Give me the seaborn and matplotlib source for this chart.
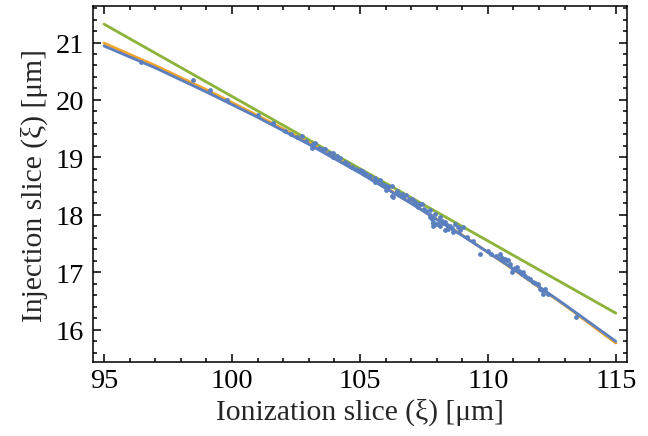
import matplotlib
matplotlib.use("Agg")
import matplotlib.pyplot as plt
import seaborn as sns
import pandas as pd
from matplotlib.ticker import MultipleLocator

# ---- data ----
line_x = [95, 97, 99, 101, 103, 105, 107, 109, 111, 113, 115]
blue_line_y = [20.94, 20.56, 20.14, 19.70, 19.23, 18.73, 18.20, 17.64, 17.06, 16.44, 15.80]
orange_line_y = [20.99, 20.60, 20.18, 19.73, 19.26, 18.75, 18.21, 17.65, 17.05, 16.43, 15.77]
green_x = [95, 115]
green_y = [21.32, 16.29]

pts_x = [96.45, 98.49, 99.14, 99.79, 101.03, 101.6, 102.07, 102.3, 102.55, 102.72,
         102.9, 103.11, 103.18, 103.24, 103.4, 103.57, 103.63, 103.8, 103.96, 103.96,
         104.1, 104.22, 104.4, 104.55, 104.7, 104.85, 105.0, 105.07, 105.13, 105.25,
         105.4, 105.59, 105.59, 105.65, 105.78, 105.85, 105.95, 106.02, 106.04, 106.1,
         106.24, 106.24, 106.3, 106.43, 106.5, 106.63, 106.7, 106.82, 106.9, 107.02,
         107.1, 107.2, 107.28, 107.34, 107.41, 107.5, 107.6, 107.73, 107.73, 107.73,
         107.8, 107.86, 107.86, 107.86, 107.93, 107.99, 108.06, 108.13, 108.13, 108.19,
         108.25, 108.32, 108.32, 108.4, 108.45, 108.45, 108.52, 108.6, 108.65, 108.71,
         108.84, 108.91, 109.04, 109.2, 109.4, 109.69, 110.01, 110.14, 110.3, 110.47,
         110.53, 110.6, 110.66, 110.73, 110.79, 110.86, 110.93, 110.99, 111.05, 111.12,
         111.2, 111.32, 111.38, 111.45, 111.55, 111.65, 111.77, 111.85, 111.97, 112.03,
         112.1, 112.16, 112.23, 112.35, 113.46]
pts_y = [20.66, 20.34, 20.17, 20.00, 19.73, 19.60, 19.46, 19.40, 19.35, 19.38,
         19.29, 19.17, 19.23, 19.26, 19.17, 19.15, 19.14, 19.08, 19.08, 19.00,
         19.03, 18.99, 18.92, 18.88, 18.84, 18.80, 18.79, 18.77, 18.75, 18.72,
         18.67, 18.64, 18.57, 18.59, 18.60, 18.54, 18.52, 18.44, 18.51, 18.49,
         18.33, 18.51, 18.31, 18.42, 18.38, 18.37, 18.31, 18.34, 18.27, 18.28,
         18.24, 18.20, 18.13, 18.19, 18.19, 18.10, 18.07, 18.09, 17.96, 17.99,
         17.93, 17.86, 17.80, 17.87, 18.02, 17.84, 17.84, 17.96, 17.81, 17.90,
         17.86, 17.87, 17.73, 17.83, 17.79, 17.76, 17.80, 17.77, 17.70, 17.84,
         17.79, 17.73, 17.79, 17.62, 17.55, 17.32, 17.38, 17.32, 17.29, 17.32,
         17.26, 17.23, 17.23, 17.21, 17.21, 17.15, 17.00, 17.05, 17.08, 17.09,
         17.02, 16.97, 17.00, 16.94, 16.91, 16.88, 16.83, 16.81, 16.80, 16.71,
         16.70, 16.63, 16.71, 16.62, 16.22]

# ---- style ----
sns.set_style("ticks")
plt.rcParams.update({
    "font.family": ["Liberation Serif", "DejaVu Serif"],
    "font.size": 11,
    "axes.linewidth": 0.6,
    "xtick.direction": "in", "ytick.direction": "in",
    "xtick.top": True, "ytick.right": True,
    "xtick.major.size": 3, "ytick.major.size": 3,
    "xtick.minor.size": 1.5, "ytick.minor.size": 1.5,
    "xtick.major.width": 0.6, "ytick.major.width": 0.6,
    "xtick.minor.width": 0.6, "ytick.minor.width": 0.6,
    "xtick.minor.visible": True, "ytick.minor.visible": True,
    "xtick.color": "black", "ytick.color": "black",
    "axes.edgecolor": "black",
})

BLUE = "#5b80bf"
ORANGE = "#f2a32c"
GREEN = "#8db33a"

fig = plt.figure(figsize=(3.5, 2.357), dpi=185.4)
ax = fig.add_axes([0.1433, 0.1693, 0.8223, 0.814])

sns.lineplot(x=green_x, y=green_y, ax=ax, color=GREEN, lw=1.1)
sns.lineplot(x=line_x, y=orange_line_y, ax=ax, color=ORANGE, lw=1.1)
sns.lineplot(x=line_x, y=blue_line_y, ax=ax, color=BLUE, lw=1.1)
sns.scatterplot(x=pts_x, y=pts_y, ax=ax, color=BLUE, s=3.5, linewidth=0, zorder=5)

ax.set_xlim(94.57, 115.42)
ax.set_ylim(15.44, 21.63)
ax.xaxis.set_major_locator(MultipleLocator(5))
ax.xaxis.set_minor_locator(MultipleLocator(1))
ax.yaxis.set_major_locator(MultipleLocator(1))
ax.yaxis.set_minor_locator(MultipleLocator(0.2))
ax.tick_params(which="both", top=True, right=True, direction="in", labelsize=11)
ax.tick_params(axis="x", pad=2.5)

ax.set_xlabel("Ionization slice (ξ) [μm]", fontsize=11.5, labelpad=1.5)
ax.set_ylabel("Injection slice (ξ) [μm]", fontsize=11.5, labelpad=3)

fig.savefig("out.png", dpi=185.4)
